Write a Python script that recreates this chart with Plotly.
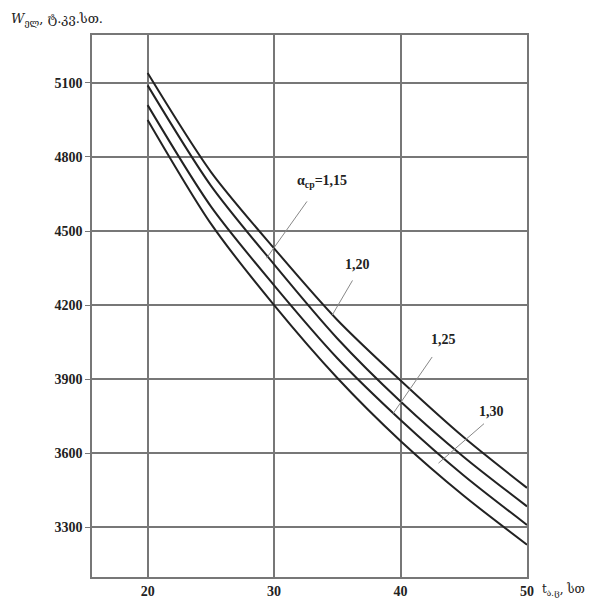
import plotly.graph_objects as go

t_vals = [20, 25, 30, 35, 40, 45, 50]
w_115 = [5140, 4740, 4430, 4140, 3895, 3665, 3460]
w_120 = [5090, 4684, 4365, 4065, 3810, 3585, 3385]
w_125 = [5010, 4600, 4280, 3985, 3735, 3510, 3310]
w_130 = [4950, 4530, 4200, 3905, 3650, 3428, 3230]
series_labels = ["α<sub>ср</sub>=1,15", "1,20", "1,25", "1,30"]
x_ticks = [20, 30, 40, 50]
y_ticks = [3300, 3600, 3900, 4200, 4500, 4800, 5100]

fig = go.Figure()
for ys, name in zip([w_115, w_120, w_125, w_130], series_labels):
    fig.add_trace(go.Scatter(x=t_vals, y=ys, mode="lines", name=name,
                             line=dict(color="#222", width=2, shape="spline", smoothing=0.8),
                             showlegend=False))

# label positions (text) and leader line ends
lab_pos = [(33.8, 4700), (36.6, 4363), (43.4, 4062), (47.2, 3771)]
lead_start = [(32.6, 4620), (36.2, 4300), (42.5, 3990), (46.6, 3720)]
lead_end = [(29.4, 4390), (34.6, 4160), (39.4, 3760), (43.0, 3560)]

for (lx, ly), name in zip(lab_pos, series_labels):
    fig.add_annotation(x=lx, y=ly, text=name, showarrow=False,
                       font=dict(family="Liberation Serif", size=14, color="#222", weight="bold"))
for (sx, sy), (ex, ey) in zip(lead_start, lead_end):
    fig.add_shape(type="line", x0=sx, y0=sy, x1=ex, y1=ey, xref="x", yref="y",
                  line=dict(color="#888", width=1))

fig.add_annotation(xref="paper", yref="paper", x=-0.19, y=1.01, xanchor="left", yanchor="bottom",
                   text="<i>W</i><sub>ელ</sub>, ტ.კვ.სთ.", showarrow=False,
                   font=dict(family="DejaVu Serif", size=13, color="#222"))
fig.add_annotation(xref="paper", yref="paper", x=1.03, y=-0.005, xanchor="left", yanchor="top",
                   text="t<sub>ა.ც</sub>, სთ", showarrow=False,
                   font=dict(family="DejaVu Serif", size=12, color="#222"))

fig.update_xaxes(range=[15.6, 50], tickvals=x_ticks, showgrid=True, gridcolor="#777", gridwidth=1.5,
                 showline=True, linecolor="#777", linewidth=1.5, mirror=True, zeroline=False,
                 ticks="", tickfont=dict(family="Liberation Serif", size=14, color="#222", weight="bold"))
fig.update_yaxes(range=[3099, 5294], tickvals=y_ticks, showgrid=True, gridcolor="#777", gridwidth=1.5,
                 showline=True, linecolor="#777", linewidth=1.5, mirror=True, zeroline=False,
                 ticks="outside", ticklen=5, tickcolor="#777",
                 tickfont=dict(family="Liberation Serif", size=14, color="#222", weight="bold"))
fig.update_layout(width=609, height=611, margin=dict(l=92, r=82, t=35, b=22),
                  plot_bgcolor="white", paper_bgcolor="white")
fig.write_html("out.html")
